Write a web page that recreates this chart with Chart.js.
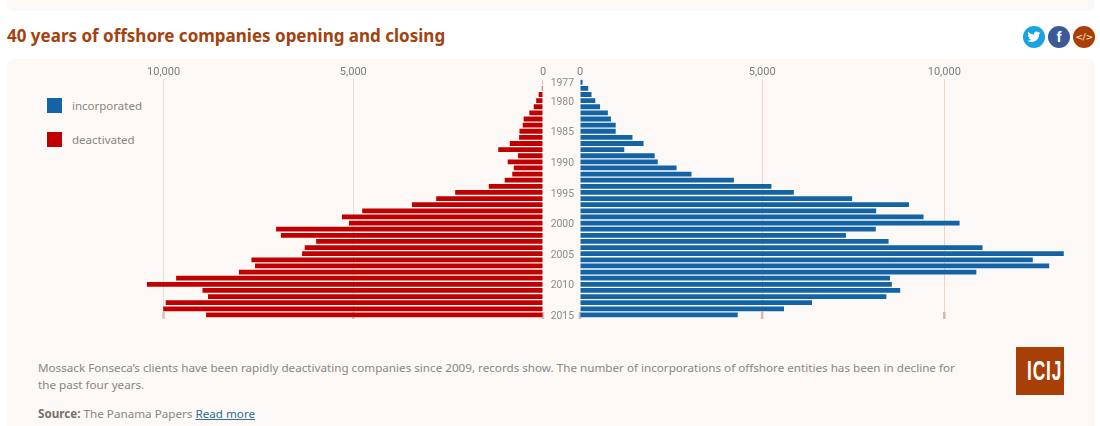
<!DOCTYPE html>
<html><head><meta charset="utf-8">
<script src="https://cdn.jsdelivr.net/npm/chart.js@4"></script>
<style>
html,body{margin:0;padding:0;background:#fff;width:1100px;height:426px;overflow:hidden;position:relative;font-family:"Noto Sans",sans-serif}
.abs{position:absolute}
#strip{left:7px;top:0;width:1088px;height:11px;background:#fcf8f6;border-radius:0 0 6px 6px}
#panel{left:7px;top:59px;width:1088px;height:367px;background:#fcf8f6;border-radius:6px 6px 0 0}
#title{left:7px;top:24px;font:700 17px/24px "Noto Sans",sans-serif;color:#a4420e;white-space:nowrap}
canvas{position:absolute;display:block}
.sw{left:47px;width:15px;height:15px}
.lg{left:72px;font:11.5px/16px "Noto Sans",sans-serif;color:#8a8581;white-space:nowrap}
.ic{top:26px;width:22px;height:22px;border-radius:50%;text-align:center;color:#fff}
#note{left:38px;top:359px;width:930px;font:11.67px/17px "Noto Sans",sans-serif;color:#8b8784;white-space:nowrap}
#src{left:38px;top:405px;font:11.67px/17px "Noto Sans",sans-serif;color:#8b8784;white-space:nowrap}
#src b{color:#77716d}
#src a{color:#2f6f94;text-decoration:underline}
#logo{left:1016px;top:347px;width:48px;height:48px;background:#a83f06;color:#fff;text-align:center;overflow:hidden}
#logo span{display:inline-block;font:700 28px/48px "Liberation Sans",sans-serif;letter-spacing:1.5px;transform:scaleX(.62);transform-origin:center}
</style></head><body>
<div class="abs" id="strip"></div>
<div class="abs" id="panel"></div>
<div class="abs" id="title">40 years of offshore companies opening and closing</div>
<div class="abs ic" style="left:1023px;background:#1aa3e0"><svg width="14" height="14" viewBox="0 0 24 24" style="margin-top:4px"><path fill="#fff" d="M23 4.6c-.8.4-1.7.6-2.6.7.9-.6 1.6-1.4 2-2.5-.9.5-1.9.9-2.9 1.1A4.6 4.6 0 0 0 11.7 8C7.900 7.800 4.500 6 2.200 3.200c-1.200 2.100-.6 4.800 1.400 6.100-.7 0-1.400-.2-2.100-.6 0 2.200 1.600 4.200 3.700 4.600-.7.2-1.400.2-2.100.1.600 1.800 2.300 3.200 4.300 3.200A9.300 9.300 0 0 1 .6 18.500 13 13 0 0 0 7.700 20.600c8.500 0 13.400-7.200 13.100-13.700.9-.6 1.700-1.400 2.200-2.300z"/></svg></div>
<div class="abs ic" style="left:1048px;background:#3b5998;font:700 15px/22px 'Liberation Sans',sans-serif">f</div>
<div class="abs ic" style="left:1073px;background:#a83f06;color:#f6cfae;font:700 9px/22px 'DejaVu Sans',sans-serif;letter-spacing:-.5px">&lt;/&gt;</div>
<div class="abs sw" style="top:98px;background:#1463a5"></div>
<div class="abs lg" style="top:98px">incorporated</div>
<div class="abs sw" style="top:132px;background:#c00000"></div>
<div class="abs lg" style="top:132px">deactivated</div>
<canvas id="left" width="449" height="269" style="left:100px;top:59px"></canvas>
<canvas id="right" width="545" height="269" style="left:545px;top:59px"></canvas>
<div class="abs" id="note">Mossack Fonseca’s clients have been rapidly deactivating companies since 2009, records show. The number of incorporations of offshore entities has been in decline for<br>the past four years.</div>
<div class="abs" id="src"><b>Source:</b> The Panama Papers <a>Read more</a></div>
<div class="abs" id="logo"><span>ICIJ</span></div>
<script>
const years = ['1977','1978','1979','1980','1981','1982','1983','1984','1985','1986','1987','1988','1989','1990','1991','1992','1993','1994','1995','1996','1997','1998','1999','2000','2001','2002','2003','2004','2005','2006','2007','2008','2009','2010','2011','2012','2013','2014','2015'];
const incorporated = [70,225,315,420,550,765,850,980,980,1440,1745,1215,2050,2135,2650,3060,4225,5255,5870,7470,9030,8130,9430,10420,8120,7300,8470,11050,13280,12430,12880,10880,8510,8560,8790,8410,6370,5600,4330];
const deactivated = [20,30,115,180,245,360,510,535,620,630,875,1180,660,930,770,810,1010,1430,2315,2815,3455,4765,5300,5115,7035,6910,5980,6280,6350,7685,7590,8015,9670,10440,8975,8830,9945,10010,8880];
const shownYears = ['1977','1980','1985','1990','1995','2000','2005','2010','2015'];
const valueTicks = [0,5000,10000];

const axisFont = {family:'Roboto',size:11};
const footMarks = {
  id:'footMarks',
  beforeDatasetsDraw(chart,args,opts){
    const {ctx,scales:{x},chartArea:a}=chart;
    ctx.save();
    valueTicks.forEach(v=>{
      ctx.fillStyle=opts.color;
      const px=x.getPixelForValue(v);
      ctx.fillRect(px-1.25,a.bottom-6,2.5,7);
    });
    ctx.restore();
  }
};
function makeChart(id,data,color,reverse,max,showYears,gridColor,markColor,padRight){
  return new Chart(document.getElementById(id),{
    type:'bar',
    data:{labels:years,datasets:[{label:id==='left'?'deactivated':'incorporated',data,backgroundColor:color,barPercentage:0.78,categoryPercentage:1}]},
    plugins:[footMarks],
    options:{
      indexAxis:'y',responsive:false,animation:false,
      layout:{padding:{left:0,right:padRight,top:0,bottom:10}},
      plugins:{legend:{display:false},title:{display:false},tooltip:{enabled:false},footMarks:{color:markColor}},
      scales:{
        x:{position:'top',reverse,min:0,max,
          afterBuildTicks(s){s.ticks=valueTicks.map(v=>({value:v}));},
          afterFit(s){s.height=20.2;s.paddingLeft=0;s.paddingRight=0;},
          border:{display:false},
          grid:{color:c=>(c.tick&&c.tick.value===0)?'rgba(0,0,0,0)':gridColor,drawTicks:false,lineWidth:1},
          ticks:{maxRotation:0,autoSkip:false,padding:0,color:'#7d7d7d',font:axisFont,callback:v=>Number(v).toLocaleString('en-US')}
        },
        y:{display:showYears?true:false,offset:true,
          afterFit(s){s.width=showYears?35:0;s.paddingTop=0;s.paddingBottom=0;},
          border:{display:false},grid:{display:false,drawTicks:false},
          ticks:{autoSkip:false,padding:6,color:'#8d8d8d',font:{family:'Roboto',size:10.4,lineHeight:'3px'},
            callback(v){const l=this.getLabelForValue(v);return shownYears.includes(l)?['',l]:'';}}
        }
      }
    }
  });
}
makeChart('left',deactivated,'#c00000',true,11676,false,'#ecdcd5','#dcc0b4',6);
makeChart('right',incorporated,'#1463a5',false,14000,true,'#eed2c6','#dcb7a6',0);
</script>
</body></html>
